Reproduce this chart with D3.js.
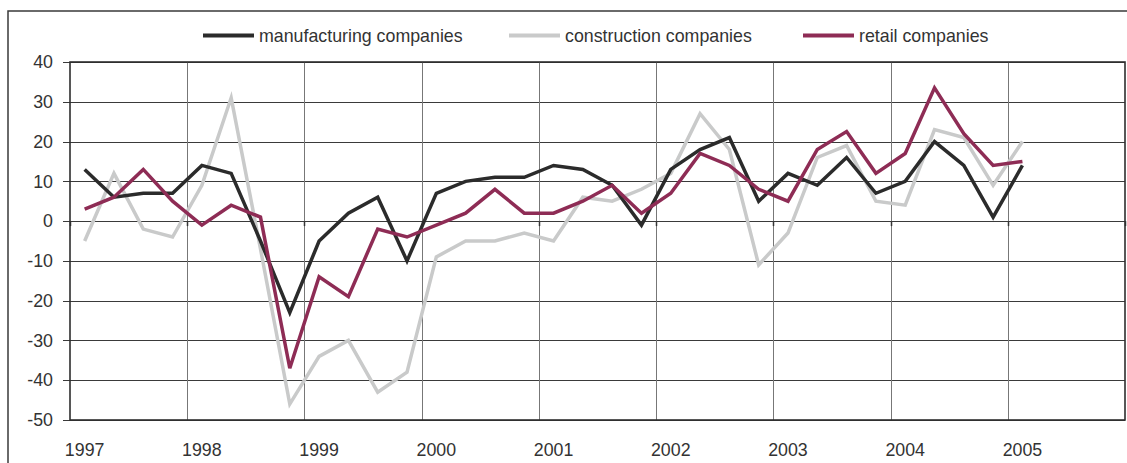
<!DOCTYPE html>
<html>
<head>
<meta charset="utf-8">
<script src="https://cdn.jsdelivr.net/npm/d3@7"></script>
<style>
  html, body { margin: 0; padding: 0; background: #fff; }
  svg { display: block; }
  text { font-family: "Liberation Sans", Arial, sans-serif; fill: #333; }
</style>
</head>
<body>
<svg id="chart" width="1127" height="463"></svg>
<script>
// ---- data (quarterly, 1997 Q1 .. 2005 Q1) ----
const yearLabels = ["1997","1998","1999","2000","2001","2002","2003","2004","2005"];
const yTicks = [40, 30, 20, 10, 0, -10, -20, -30, -40, -50];
const seriesNames = ["manufacturing companies", "construction companies", "retail companies"];
const manufacturing = [13, 6, 7, 7, 14, 12, -5, -23, -5, 2, 6, -10, 7, 10, 11, 11, 14, 13, 9, -1, 13, 18, 21, 5, 12, 9, 16, 7, 10, 20, 14, 1, 14];
const construction  = [-5, 12, -2, -4, 9, 31, -7, -46, -34, -30, -43, -38, -9, -5, -5, -3, -5, 6, 5, 8, 12, 27, 18, -11, -3, 16, 19, 5, 4, 23, 21, 9, 20];
const retail        = [3, 6, 13, 5, -1, 4, 1, -37, -14, -19, -2, -4, -1, 2, 8, 2, 2, 5, 9, 2, 7, 17, 14, 8, 5, 18, 22.5, 12, 17, 33.5, 22, 14, 15];
const colors = ["#2b2b2b", "#c9caca", "#8e2c55"];

const svg = d3.select("#chart");
const pLeft = 70, pRight = 1125, pTop = 62, pBottom = 420;
const fontSize = "17.8px";

const x = d3.scaleLinear().domain([1997, 2006]).range([pLeft, pRight]);
const y = d3.scaleLinear().domain([-50, 40]).range([pBottom, pTop]);
const qx = i => x(1997 + (i + 0.5) / 4);

// outer frame
svg.append("rect").attr("x", 8).attr("y", 11).attr("width", 1140).attr("height", 470)
  .attr("fill", "none").attr("stroke", "#3a3a3a").attr("stroke-width", 1.5);

// horizontal gridlines
svg.append("g").selectAll("line").data(yTicks).join("line")
  .attr("x1", pLeft - 7).attr("x2", pRight)
  .attr("y1", d => Math.round(y(d)) + 0.5).attr("y2", d => Math.round(y(d)) + 0.5)
  .attr("stroke", "#3a3a3a").attr("stroke-width", 1);

// vertical gridlines
const yearVals = d3.range(1998, 2006);
svg.append("g").selectAll("line").data(yearVals).join("line")
  .attr("x1", d => Math.round(x(d)) + 0.5).attr("x2", d => Math.round(x(d)) + 0.5)
  .attr("y1", pTop).attr("y2", pBottom)
  .attr("stroke", "#777").attr("stroke-width", 1);

// small ticks on the zero line
svg.append("g").selectAll("line").data(d3.range(1997, 2007)).join("line")
  .attr("x1", d => Math.round(x(d)) + 0.5).attr("x2", d => Math.round(x(d)) + 0.5)
  .attr("y1", y(0)).attr("y2", y(0) + 5)
  .attr("stroke", "#333").attr("stroke-width", 1.5);

// y axis labels
svg.append("g").selectAll("text").data(yTicks).join("text")
  .attr("x", 53).attr("y", d => y(d)).attr("dy", "0.35em")
  .attr("text-anchor", "end").style("font-size", fontSize)
  .text(d => d);

// x axis labels (centred on first quarter of each year)
svg.append("g").selectAll("text").data(yearLabels).join("text")
  .attr("x", (d, i) => qx(i * 4)).attr("y", 456)
  .attr("text-anchor", "middle").style("font-size", fontSize)
  .text(d => d);

// plot border
svg.append("rect").attr("x", pLeft).attr("y", pTop).attr("width", pRight - pLeft).attr("height", pBottom - pTop)
  .attr("fill", "none").attr("stroke", "#2e2e2e").attr("stroke-width", 1.6);

// series lines
const lineGen = d3.line().x((d, i) => qx(i)).y(d => y(d));
const series = [manufacturing, construction, retail];
[1, 0, 2].forEach(k => {
  svg.append("path").datum(series[k])
    .attr("d", lineGen)
    .attr("fill", "none").attr("stroke", colors[k])
    .attr("stroke-width", 3.5).attr("stroke-linejoin", "miter");
});

// legend
const legendX = [203, 509, 803];
const lg = svg.append("g");
seriesNames.forEach((name, k) => {
  lg.append("line").attr("x1", legendX[k]).attr("x2", legendX[k] + 51)
    .attr("y1", 35.5).attr("y2", 35.5)
    .attr("stroke", colors[k]).attr("stroke-width", 4);
  lg.append("text").attr("x", legendX[k] + 56).attr("y", 42)
    .style("font-size", fontSize).text(name);
});
</script>
</body>
</html>
